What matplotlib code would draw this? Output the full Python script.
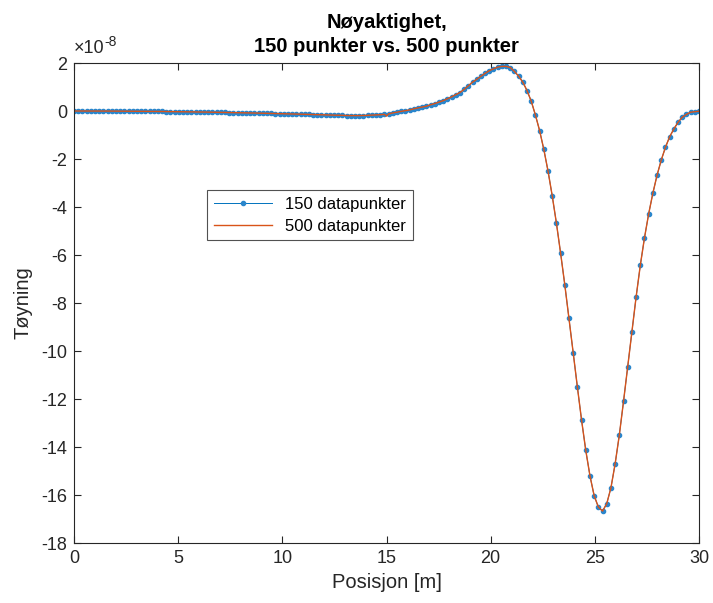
import numpy as np
import matplotlib
matplotlib.use('Agg')
import matplotlib.pyplot as plt

plt.rcParams['font.family'] = ['Liberation Sans', 'DejaVu Sans']
plt.rcParams['axes.unicode_minus'] = False

# tøyning i enheter av 1e-8, 150 punkter jevnt fordelt over 0-30 m
y150 = [0.0, 0.0, 0.0, 0.0, -0.001, -0.001, -0.002, -0.002, -0.003, -0.004,
        -0.005, -0.006, -0.007, -0.008, -0.009, -0.010, -0.012, -0.013, -0.015, -0.016,
        -0.018, -0.020, -0.022, -0.024, -0.026, -0.028, -0.031, -0.033, -0.036, -0.038,
        -0.041, -0.044, -0.047, -0.050, -0.053, -0.056, -0.059, -0.062, -0.066, -0.069,
        -0.073, -0.077, -0.080, -0.084, -0.088, -0.092, -0.096, -0.101, -0.105, -0.109,
        -0.114, -0.119, -0.123, -0.128, -0.133, -0.138, -0.143, -0.148, -0.153, -0.159,
        -0.164, -0.169, -0.175, -0.180, -0.185, -0.189, -0.191, -0.192, -0.191, -0.187,
        -0.181, -0.173, -0.164, -0.153, -0.141, -0.120, -0.080, -0.050, -0.015, 0.015,
        0.045, 0.09, 0.13, 0.165, 0.20, 0.26, 0.31, 0.37, 0.43, 0.51,
        0.59, 0.68, 0.77, 0.90, 1.05, 1.20, 1.32, 1.45, 1.57, 1.68,
        1.76, 1.83, 1.86, 1.86, 1.81, 1.65, 1.45, 1.20, 0.85, 0.41,
        -0.17, -0.82, -1.60, -2.50, -3.53, -4.67, -5.92, -7.24, -8.64, -10.07,
        -11.50, -12.88, -14.14, -15.20, -16.03, -16.50, -16.67, -16.36, -15.70, -14.70,
        -13.50, -12.10, -10.65, -9.20, -7.75, -6.43, -5.28, -4.28, -3.42, -2.67,
        -2.04, -1.51, -1.07, -0.75, -0.47, -0.26, -0.14, -0.05, -0.03, -0.01]
x150 = np.linspace(0, 30, len(y150))

# 500-punktsløsningen følger samme kurve, men har en liten knekk ved 15 m
knekk_x = 15.0
knekk_y = -0.21
idx = np.searchsorted(x150, knekk_x)
x500 = np.insert(x150, idx, knekk_x)
y500 = np.insert(np.array(y150), idx, knekk_y)

fig = plt.figure(figsize=(7.13, 6.03), dpi=100)
ax = fig.add_axes([0.1038, 0.0995, 0.8766, 0.796])

ax.plot(x150, y150, '.-', color='#0072BD', linewidth=0.7, markersize=6,
        markerfacecolor='#2A86CC', markeredgecolor='#2A86CC', label='150 datapunkter')
ax.plot(x500, y500, '-', color='#D95319', linewidth=1.0, label='500 datapunkter')

ax.set_xlim(0, 30)
ax.set_ylim(-18, 2)
ax.set_xticks(range(0, 31, 5))
ax.set_yticks(range(-18, 3, 2))
ax.tick_params(direction='in', length=5, width=0.8, top=True, right=True,
               labelsize=13, colors='#262626', labelcolor='#262626', pad=5)
for s in ax.spines.values():
    s.set_linewidth(0.8)
    s.set_color('#262626')

# eksponent oppe til venstre, som i MATLAB
ax.text(0.0, 1.012, '×10', transform=ax.transAxes, ha='left', va='bottom',
        fontsize=13, color='#262626')
ax.text(0.048, 1.030, '-8', transform=ax.transAxes, ha='left', va='bottom',
        fontsize=10, color='#262626')

ax.set_xlabel('Posisjon [m]', fontsize=14.5, color='#262626', labelpad=4)
ax.set_ylabel('Tøyning', fontsize=14.5, color='#262626', labelpad=6)
ax.set_title('Nøyaktighet,\n150 punkter vs. 500 punkter', fontsize=14.5,
             fontweight='bold', pad=8, linespacing=1.3)

leg = ax.legend(loc='upper left', bbox_to_anchor=(0.213, 0.735), borderaxespad=0,
                fontsize=12, frameon=True, fancybox=False, handlelength=3.5,
                labelspacing=0.4)
leg.get_frame().set_edgecolor('#262626')
leg.get_frame().set_linewidth(0.8)

plt.savefig('out.png', dpi=100)
